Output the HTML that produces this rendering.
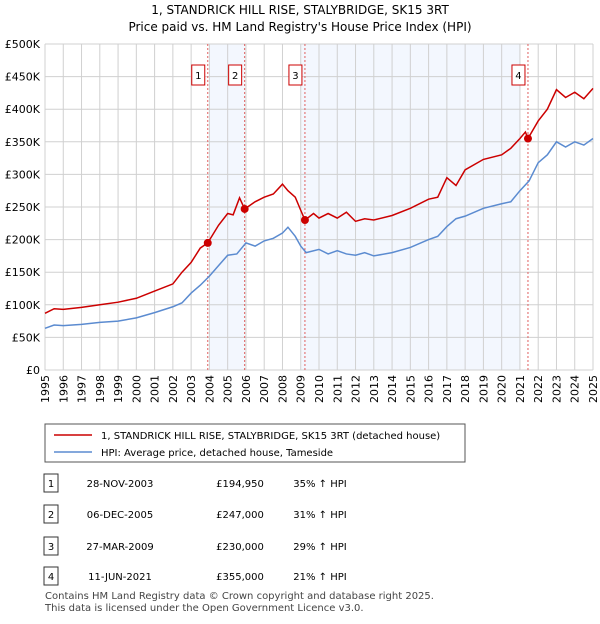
<!DOCTYPE html>
<html><head><meta charset="utf-8"><style>
body{margin:0;background:#fff;font-family:"DejaVu Sans","Liberation Sans",sans-serif;}
svg text{font-family:"DejaVu Sans","Liberation Sans",sans-serif;}
</style></head><body>
<svg width="600" height="620" xmlns="http://www.w3.org/2000/svg" id="chart">
<text x="300" y="14" text-anchor="middle" font-size="12">1, STANDRICK HILL RISE, STALYBRIDGE, SK15 3RT</text>
<text x="300" y="31" text-anchor="middle" font-size="12">Price paid vs. HM Land Registry's House Price Index (HPI)</text>
<g id="grid"></g><g id="marks"></g>
<g>
<rect x="45" y="424" width="420" height="38" fill="#fff" stroke="#555"/>
<line x1="54" y1="435" x2="92" y2="435" stroke="#cc0000" stroke-width="1.5"/>
<text x="101" y="439" font-size="10">1, STANDRICK HILL RISE, STALYBRIDGE, SK15 3RT (detached house)</text>
<line x1="54" y1="452" x2="92" y2="452" stroke="#5b8bd0" stroke-width="1.5"/>
<text x="101" y="456" font-size="10">HPI: Average price, detached house, Tameside</text>
</g>
<g id="table" font-size="10"></g>
<text x="45" y="599" font-size="10" fill="#444">Contains HM Land Registry data © Crown copyright and database right 2025.</text>
<text x="45" y="611" font-size="10" fill="#444">This data is licensed under the Open Government Licence v3.0.</text>
</svg>
<script>
const yTicks=[0,50,100,150,200,250,300,350,400,450,500];
const yearTicks=[1995,1996,1997,1998,1999,2000,2001,2002,2003,2004,2005,2006,2007,2008,2009,2010,2011,2012,2013,2014,2015,2016,2017,2018,2019,2020,2021,2022,2023,2024,2025];
const hpiDates=[1995,1995.5,1996,1997,1998,1999,2000,2001,2002,2002.5,2003,2003.5,2004,2004.5,2005,2005.5,2006,2006.5,2007,2007.5,2008,2008.3,2008.7,2009,2009.3,2010,2010.5,2011,2011.5,2012,2012.5,2013,2014,2015,2016,2016.5,2017,2017.5,2018,2019,2020,2020.5,2021,2021.5,2022,2022.5,2023,2023.5,2024,2024.5,2025];
const hpiValues=[64,69,68,70,73,75,80,88,97,103,118,130,144,160,176,178,195,190,198,202,210,219,205,190,180,185,178,183,178,176,180,175,180,188,200,205,220,232,236,248,255,258,275,290,318,330,350,342,350,345,355];
const saleDates=[1995,1995.5,1996,1997,1998,1999,2000,2001,2002,2002.5,2003,2003.5,2003.91,2004.5,2005,2005.3,2005.65,2005.93,2006.5,2007,2007.5,2008,2008.3,2008.7,2009,2009.23,2009.7,2010,2010.5,2011,2011.5,2012,2012.5,2013,2014,2015,2016,2016.5,2017,2017.5,2018,2019,2020,2020.5,2021,2021.3,2021.44,2022,2022.5,2023,2023.5,2024,2024.5,2025];
const saleValues=[87,94,93,96,100,104,110,121,132,150,165,187,194.95,222,240,238,264,247,258,265,270,285,275,265,245,230,240,233,240,233,242,228,232,230,237,248,262,265,295,283,307,323,330,340,355,365,355,382,400,430,418,426,416,432];
const salesX=[2003.91,2005.93,2009.23,2021.44];
const salesY=[194.95,247,230,355];
const saleLabels=["1","2","3","4"];
const saleDateText=["28-NOV-2003","06-DEC-2005","27-MAR-2009","11-JUN-2021"];
const salePriceText=["£194,950","£247,000","£230,000","£355,000"];
const saleHpiText=["35% ↑ HPI","31% ↑ HPI","29% ↑ HPI","21% ↑ HPI"];
const shadeStart=[2004.0,2009.0];
const shadeEnd=[2005.93,2021.0];

const L=45,R=593,T=44,B=370;
const x=v=>L+(v-1995)/30*(R-L);
const y=v=>B-v/500*(B-T);
const NS="http://www.w3.org/2000/svg";
function mk(tag,attrs,parent){const e=document.createElementNS(NS,tag);for(const k in attrs)e.setAttribute(k,attrs[k]);parent.appendChild(e);return e;}
const g=document.getElementById('grid'),m=document.getElementById('marks'),tb=document.getElementById('table');
shadeStart.forEach((s,i)=>{const r=mk('rect',{x:x(s),y:T,width:x(shadeEnd[i])-x(s),height:B-T,fill:'#f3f7fe'},g);

});
yTicks.forEach(v=>{const l=mk('line',{x1:L,x2:R,y1:y(v),y2:y(v),stroke:'#d0d0d0'},g);


const t=mk('text',{x:L-5,y:y(v)+4,'text-anchor':'end','font-size':11},g);t.textContent=v===0?'£0':'£'+v+'K';

});
yearTicks.forEach(v=>{const l=mk('line',{x1:x(v),x2:x(v),y1:T,y2:B,stroke:'#d0d0d0'},g);


const t=mk('text',{x:0,y:0,'text-anchor':'end','font-size':11,transform:`translate(${x(v)+4},${B+5}) rotate(-90)`},g);t.textContent=v;

});
salesX.forEach((s,i)=>{const l=mk('line',{x1:x(s),x2:x(s),y1:T,y2:B,stroke:'#e06060','stroke-dasharray':'2,2'},m);


const r=mk('rect',{x:x(s)-16,y:65,width:13,height:20,fill:'#fff',stroke:'#cc0000'},m);


const t=mk('text',{x:x(s)-9.5,y:79,'text-anchor':'middle','font-size':10},m);t.textContent=saleLabels[i];

});
const hp=mk('polyline',{points:hpiDates.map((d,i)=>x(d)+','+y(hpiValues[i])).join(' '),fill:'none',stroke:'#5b8bd0','stroke-width':1.5},m);


const sp=mk('polyline',{points:saleDates.map((d,i)=>x(d)+','+y(saleValues[i])).join(' '),fill:'none',stroke:'#cc0000','stroke-width':1.5},m);


salesX.forEach((s,i)=>{const c=mk('circle',{cx:x(s),cy:y(salesY[i]),r:4,fill:'#cc0000'},m);

});
const rowY=[483,514,546,576];
rowY.forEach((ry,i)=>{const r=mk('rect',{x:44,y:ry-9,width:14,height:18,fill:'#fff',stroke:'#333'},tb);


const cols=[[51,saleLabels[i],'middle'],[120,saleDateText[i],'middle'],[240,salePriceText[i],'middle'],[320,saleHpiText[i],'middle']];
cols.forEach(c=>{const t=mk('text',{x:c[0],y:ry+4,'text-anchor':c[2]},tb);t.textContent=c[1];

});});
</script>
</body></html>
